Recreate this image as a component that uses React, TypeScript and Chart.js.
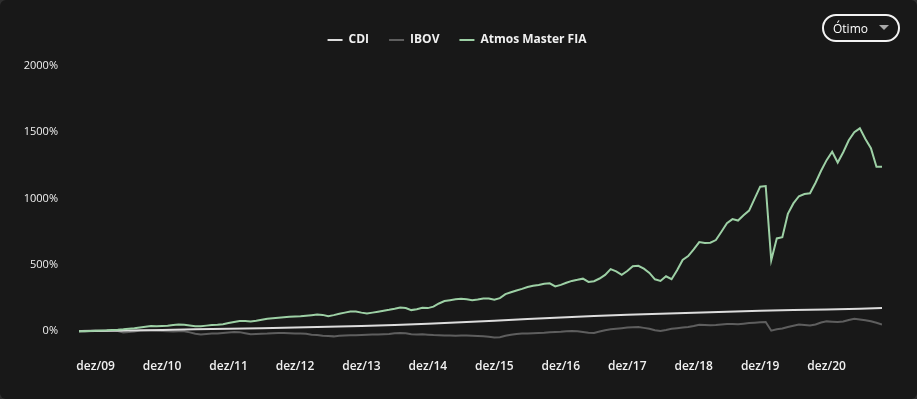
import React, { useEffect, useRef } from 'react';
import { Chart, registerables } from 'chart.js';

Chart.register(...registerables);

// month index 0 = set/09, monthly points up to out/21
const xTickMonths = [3, 15, 27, 39, 51, 63, 75, 87, 99, 111, 123, 135];
const xTickLabels = ['dez/09', 'dez/10', 'dez/11', 'dez/12', 'dez/13', 'dez/14', 'dez/15', 'dez/16', 'dez/17', 'dez/18', 'dez/19', 'dez/20'];
const yTickValues = [0, 500, 1000, 1500, 2000];

const seriesNames = ['CDI', 'IBOV', 'Atmos Master FIA'];

const cdiMonths = [0, 3, 9, 15, 21, 27, 33, 39, 45, 51, 57, 63, 69, 75, 81, 87, 93, 99, 105, 111, 117, 123, 129, 135, 141, 145];
const cdiValues = [0, 2, 6, 10, 15, 20, 24, 29, 34, 40, 48, 57, 68, 80, 92, 105, 115, 125, 132, 140, 148, 155, 160, 165, 171, 176];

const ibovValues = [
  0, 4, 6, 8, 2, 5, 8, 3, -8, -6,
  -2, 6, 8, 7, 4, 2, 0, -2, 0, 1,
  -8, -18, -23, -20, -17, -16, -12, -8, -5, -6,
  -14, -22, -20, -18, -17, -15, -13, -13, -15, -17,
  -16, -19, -25, -28, -34, -36, -38, -34, -31, -30,
  -29, -27, -25, -24, -24, -22, -20, -15, -13, -15,
  -22, -23, -22, -25, -28, -29, -31, -32, -33, -32,
  -32, -34, -36, -38, -40, -46, -44, -34, -26, -20,
  -17, -16, -14, -12, -10, -7, -5, -3, 0, 2,
  0, -5, -10, -12, -2, 8, 15, 20, 24, 28,
  30, 32, 26, 20, 8, 2, 10, 20, 24, 28,
  32, 40, 50, 48, 45, 48, 52, 56, 55, 53,
  58, 62, 65, 68, 70, 5, 15, 22, 33, 42,
  51, 48, 44, 52, 66, 75, 73, 70, 74, 86,
  95, 90, 84, 76, 65, 52,
];

const atmosValues = [
  0, 1, 3, 5, 7, 8, 10, 12, 15, 19,
  23, 29, 35, 40, 39, 41, 42, 47, 52, 49,
  44, 39, 38, 43, 47, 50, 54, 62, 70, 77,
  77, 75, 80, 87, 94, 98, 102, 106, 109, 112,
  114, 118, 122, 126, 124, 113, 122, 132, 141, 149,
  150, 141, 134, 141, 148, 155, 162, 170, 179, 176,
  160, 166, 178, 175, 186, 210, 228, 235, 241, 246,
  242, 235, 240, 248, 248, 238, 250, 280, 295, 308,
  320, 334, 344, 350, 358, 362, 338, 350, 366, 380,
  388, 397, 372, 378, 398, 425, 469, 452, 426, 455,
  490, 494, 472, 440, 392, 380, 415, 393, 460, 538,
  567, 618, 673, 665, 668, 688, 750, 815, 846, 835,
  875, 910, 1000, 1090, 1095, 536, 700, 710, 885, 964,
  1018, 1035, 1040, 1120, 1210, 1290, 1353, 1272, 1350, 1440,
  1500, 1530, 1450, 1380, 1240, 1240,
];

const FONT = "'Open Sans', sans-serif";

const legendShift = {
  id: 'legendShift',
  afterLayout(chart: any) {
    const l = chart.legend;
    if (l) {
      l.left += 16;
      l.right += 16;
    }
  },
};

export default function App() {
  const ref = useRef<HTMLCanvasElement | null>(null);

  useEffect(() => {
    if (!ref.current) return;
    const chart = new Chart(ref.current, {
      type: 'line',
      data: {
        datasets: [
          {
            label: seriesNames[0],
            data: cdiMonths.map((m, i) => ({ x: m, y: cdiValues[i] })),
            borderColor: '#dcdcdc',
            backgroundColor: '#dcdcdc',
            borderWidth: 2,
            pointRadius: 0,
            order: 1,
          },
          {
            label: seriesNames[1],
            data: ibovValues.map((v, i) => ({ x: i, y: v })),
            borderColor: '#5e5e5e',
            backgroundColor: '#5e5e5e',
            borderWidth: 2,
            pointRadius: 0,
            order: 2,
          },
          {
            label: seriesNames[2],
            data: atmosValues.map((v, i) => ({ x: i, y: v })),
            borderColor: '#9dd0a5',
            backgroundColor: '#9dd0a5',
            borderWidth: 2,
            pointRadius: 0,
            order: 0,
          },
        ],
      },
      options: {
        responsive: false,
        animation: false,
        layout: { padding: { left: 0, right: 35, top: 14, bottom: 10 } },
        plugins: {
          tooltip: { enabled: false },
          legend: {
            display: true,
            position: 'top',
            labels: {
              color: '#f0f0f0',
              font: { family: FONT, size: 12, weight: 'bold' },
              usePointStyle: true,
              pointStyle: 'line',
              pointStyleWidth: 15,
              boxHeight: 12,
              padding: 20,
              sort: (a: any, b: any) => a.datasetIndex - b.datasetIndex,
            },
          },
        },
        scales: {
          x: {
            type: 'linear',
            min: 0,
            max: 145,
            grid: { display: false, drawTicks: false },
            border: { display: false },
            afterBuildTicks: (axis: any) => {
              axis.ticks = xTickMonths.map((v) => ({ value: v }));
            },
            ticks: {
              autoSkip: false,
              maxRotation: 0,
              minRotation: 0,
              padding: 15,
              color: '#f0f0f0',
              font: { family: FONT, size: 12, weight: '600' },
              callback: (value: any) => {
                const k = xTickMonths.indexOf(Number(value));
                return k >= 0 ? xTickLabels[k] : '';
              },
            },
          },
          y: {
            type: 'linear',
            min: -100,
            max: 2075,
            grid: { display: false, drawTicks: false },
            border: { display: false },
            afterBuildTicks: (axis: any) => {
              axis.ticks = yTickValues.map((v) => ({ value: v }));
            },
            afterFit: (axis: any) => {
              axis.width = 79;
            },
            ticks: {
              padding: 21,
              color: '#f0f0f0',
              font: { family: FONT, size: 11 },
              callback: (value: any) => `${value}%`,
            },
          },
        },
      },
      plugins: [legendShift],
    } as any);
    return () => chart.destroy();
  }, []);

  return (
    <div style={{ position: 'fixed', left: 0, top: 0, width: 917, height: 399, background: '#2e2e2e' }}>
      <div
        style={{
          position: 'absolute',
          left: 0,
          top: 0,
          width: 917,
          height: 399,
          background: '#181818',
          borderRadius: 6,
          overflow: 'hidden',
        }}
      >
        <canvas ref={ref} width={917} height={399} style={{ display: 'block' }} />
        <div
          style={{
            position: 'absolute',
            left: 822,
            top: 14,
            width: 78,
            height: 28,
            boxSizing: 'border-box',
            border: '2px solid #f2f2f2',
            borderRadius: 14,
            color: '#ffffff',
            fontFamily: FONT,
            fontSize: 12,
            display: 'flex',
            alignItems: 'center',
            paddingLeft: 9,
          }}
        >
          Ótimo
          <span
            style={{
              position: 'absolute',
              left: 55,
              top: 9,
              width: 0,
              height: 0,
              borderLeft: '5px solid transparent',
              borderRight: '5px solid transparent',
              borderTop: '5px solid #a8a8a8',
            }}
          />
        </div>
      </div>
    </div>
  );
}
